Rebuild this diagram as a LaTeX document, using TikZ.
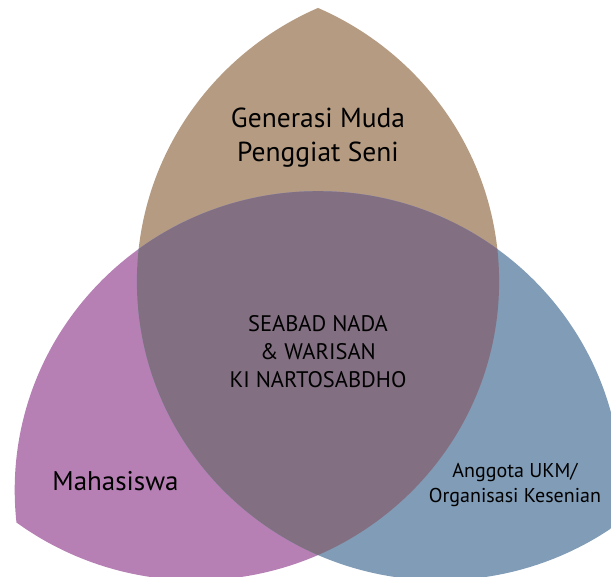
\documentclass[tikz,border=0pt]{standalone}
\usepackage{fontspec}
\setmainfont{PT Sans}
\definecolor{tanc}{HTML}{B59B81}
\definecolor{purplec}{HTML}{B780B5}
\definecolor{bluec}{HTML}{809CB6}
\definecolor{centerc}{HTML}{836F82}
\begin{document}
\begin{tikzpicture}[x=1pt,y=-1pt,
  lbl/.style={align=center,inner sep=0pt,text=black}]
\useasboundingbox (0,0) rectangle (611,577);
\clip (0,0) rectangle (611,577);
\coordinate (cA) at (440.2,281.5);
\coordinate (cB) at (195.8,281.5);
\coordinate (cC) at (318,490);
\tikzset{rad/.style={x radius=303.3pt,y radius=298.8pt}}
% top lens A∩B
\begin{scope}
  \clip (cA) ellipse [rad];
  \fill[tanc] (cB) ellipse [rad];
\end{scope}
% left lens B∩C
\begin{scope}
  \clip (cB) ellipse [rad];
  \fill[purplec] (cC) ellipse [rad];
\end{scope}
% right lens A∩C
\begin{scope}
  \clip (cA) ellipse [rad];
  \fill[bluec] (cC) ellipse [rad];
\end{scope}
% centre A∩B∩C
\begin{scope}
  \clip (cA) ellipse [rad];
  \clip (cB) ellipse [rad];
  \fill[centerc] (cC) ellipse [rad];
\end{scope}
\node[lbl,font=\fontsize{27.5}{34}\selectfont] (top) at (318,138) {Generasi Muda\\Penggiat Seni};
\node[lbl,font=\fontsize{22.5}{28}\selectfont] (mid) at (318,352) {SEABAD NADA\\\& WARISAN\\KI NARTOSABDHO};
\node[lbl,font=\fontsize{27}{30}\selectfont] (left) at (115.5,481) {Mahasiswa};
\node[lbl,font=\fontsize{20}{25}\selectfont] (right) at (515,485) {Anggota UKM/\\Organisasi Kesenian};
\end{tikzpicture}
\end{document}
